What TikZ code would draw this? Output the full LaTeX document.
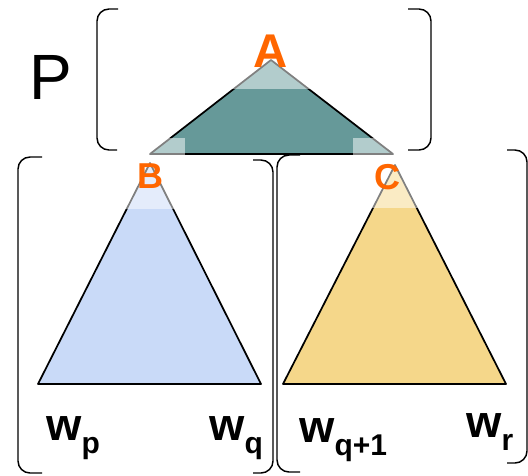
\documentclass[tikz,border=0pt]{standalone}
\usepackage{fontspec}
\setmainfont{Liberation Sans}
\definecolor{labor}{RGB}{255,102,0}
\begin{document}
\begin{tikzpicture}[x=0.75pt,y=-0.75pt,
  bracket/.style={draw=black,line width=1.1pt,rounded corners=9pt},
  tri/.style={draw=black,line width=1.3pt,line join=round},
  veil/.style={fill=white,fill opacity=0.5,draw=none},
  lab/.style={text=labor,font=\bfseries,inner sep=0pt,anchor=base},
  wlab/.style={inner sep=0pt,anchor=base west,font=\fontsize{34}{34}\selectfont\bfseries}]
\useasboundingbox (0,0) rectangle (528,475);
\newcommand{\wsub}[1]{\raisebox{-10pt}{\fontsize{22.5}{22.5}\selectfont #1}}
% brackets
\draw[bracket] (118,9) -- (97,9) -- (97,150) -- (117,150);
\draw[bracket] (408,9) -- (431,9) -- (431,150) -- (408,150);
\draw[bracket] (42,157) -- (18,157) -- (18,473) -- (42,473);
\draw[bracket] (253,160) -- (273,160) -- (273,473) -- (253,473);
\draw[bracket] (300,155) -- (277,155) -- (277,472) -- (300,472);
\draw[bracket] (507,150) -- (527,150) -- (527,463) -- (507,463);
% triangles
\coordinate (a) at (271,60); \coordinate (a1) at (150,154); \coordinate (a2) at (393,154);
\coordinate (b) at (150,163); \coordinate (b1) at (38,384); \coordinate (b2) at (261,384);
\coordinate (c) at (395,165); \coordinate (c1) at (283,384); \coordinate (c2) at (506,384);
\draw[tri,fill={rgb,255:red,102;green,153;blue,153}] (a) -- (a1) -- (a2) -- cycle;
\draw[tri,fill={rgb,255:red,201;green,218;blue,248}] (b) -- (b1) -- (b2) -- cycle;
\draw[tri,fill={rgb,255:red,245;green,215;blue,138}] (c) -- (c1) -- (c2) -- cycle;
% veils
\fill[veil] (225,55) rectangle (318,89);
\fill[veil] (145,138) rectangle (185,157);
\fill[veil] (353,138) rectangle (398,157);
\fill[veil] (115,158) rectangle (185,209);
\fill[veil] (360,160) rectangle (430,208);
% labels
\node[lab,font=\fontsize{35.5}{35.5}\selectfont\bfseries] (A) at (271,67) {A};
\node[lab,font=\fontsize{27}{27}\selectfont\bfseries] (B) at (150,188) {B};
\node[lab,font=\fontsize{27}{27}\selectfont\bfseries] (C) at (387,189) {C};
\node[inner sep=0pt,anchor=base,font=\fontsize{48}{48}\selectfont] (P) at (51,99) {P};
\node[wlab] (wp) at (46,440) {w\wsub{p}};
\node[wlab] (wq) at (209,440) {w\wsub{q}};
\node[wlab] (wq1) at (299,442) {w\wsub{q+1}};
\node[wlab] (wr) at (466,437) {w\wsub{r}};
\end{tikzpicture}
\end{document}
